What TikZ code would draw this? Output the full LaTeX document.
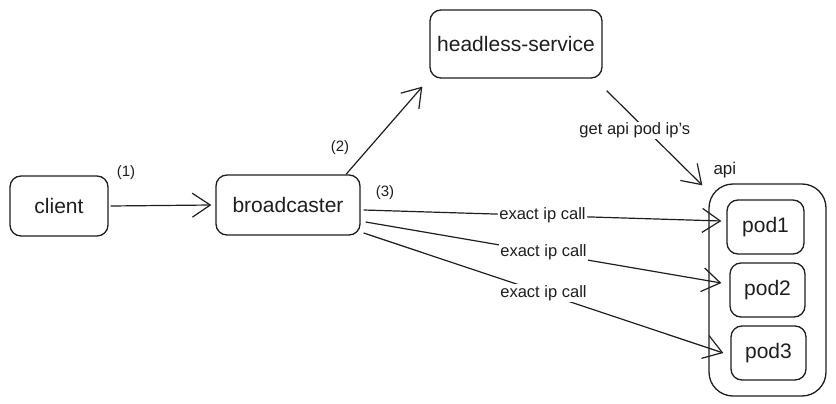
\documentclass[tikz,border=0pt]{standalone}
\usepackage{fontspec}
\setmainfont{Liberation Sans}
\usetikzlibrary{arrows.meta}
\definecolor{ink}{HTML}{1E1E1E}
\begin{document}
\begin{tikzpicture}[x=1pt,y=-1pt,
  box/.style={draw=ink, line width=1.3pt, rounded corners=11pt, font=\fontsize{21}{24}\selectfont, text=ink, inner sep=0pt},
  conn/.style={draw=ink, line width=1.2pt, -{Straight Barb[length=18pt,width=24pt,line width=1.2pt]}},
  lbl/.style={font=\fontsize{16.5}{19}\selectfont, text=ink, fill=white, inner sep=1pt},
  num/.style={font=\fontsize{15}{17}\selectfont, text=ink}]
\useasboundingbox (0,0) rectangle (836,404);
% nodes
\node[box, minimum width=98pt, minimum height=60pt] (client) at (59,206) {client};
\node[box, minimum width=144pt, minimum height=60pt] (bc) at (288,205) {broadcaster};
\node[box, minimum width=172pt, minimum height=68pt] (hs) at (516,44) {headless-service};
\node[draw=ink, line width=1.3pt, rounded corners=24pt, minimum width=117pt, minimum height=212pt] (api) at (767.5,290) {};
\node[num, font=\fontsize{17}{19}\selectfont, anchor=south west] (apilbl) at (710,182) {api};
\node[box, minimum width=77pt, minimum height=54pt] (p1) at (765.5,227) {pod1};
\node[box, minimum width=75pt, minimum height=54pt] (p2) at (767.5,290) {pod2};
\node[box, minimum width=75pt, minimum height=54pt] (p3) at (768.5,353) {pod3};
% connectors
\draw[conn] ([xshift=2pt]client.east) -- ([xshift=-4pt]bc.west);
\node[num] (n1) at (126,173) {(1)};
\draw[conn] ([xshift=58pt]bc.north) -- ([xshift=-7pt,yshift=-8pt]hs.south west);
\node[num] (n2) at (340,148) {(2)};
\draw[conn] ([xshift=4pt,yshift=-12pt]hs.south east) -- node[lbl, pos=0.42, xshift=-12pt] (l0) {get api pod ip's} ([xshift=-6pt,yshift=-2pt]api.north west);
\node[num] (n3) at (385,193) {(3)};
\draw[conn] ([xshift=3pt,yshift=-5pt]bc.east) -- node[lbl] (l1) {exact ip call} ([xshift=-5pt,yshift=6pt]p1.west);
\draw[conn] ([xshift=5pt,yshift=-17pt]bc.east) -- node[lbl] (l2) {exact ip call} ([xshift=-8pt,yshift=7pt]p2.west);
\draw[conn] ([xshift=3pt,yshift=-28pt]bc.east) -- node[lbl] (l3) {exact ip call} ([xshift=-7pt]p3.west);
\end{tikzpicture}
\end{document}
